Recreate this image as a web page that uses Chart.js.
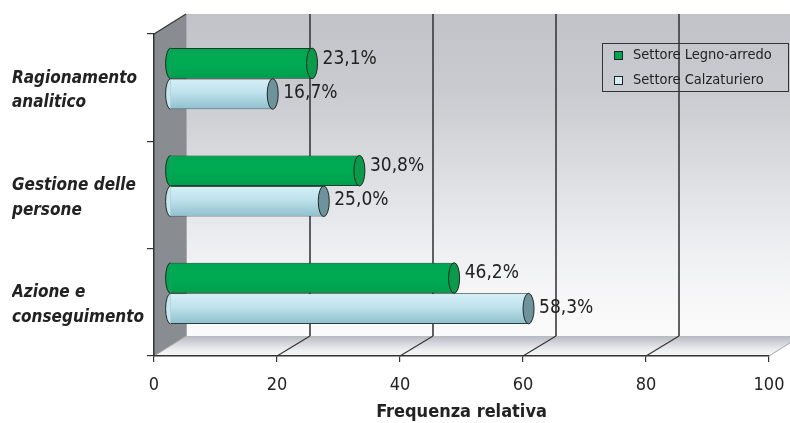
<!DOCTYPE html>
<html><head><meta charset="utf-8">
<script src="https://cdn.jsdelivr.net/npm/chart.js@4"></script>
<style>html,body{margin:0;padding:0;background:#fff}#wrap{width:790px;height:423px}</style>
</head><body><div id="wrap"><canvas id="c" width="790" height="423"></canvas></div>
<script>
const categories = [['Ragionamento','analitico'],['Gestione delle','persone'],['Azione e','conseguimento']];
const seriesNames = ['Settore Legno-arredo','Settore Calzaturiero'];
const legnoValues = [23.1, 30.8, 46.2];
const calzValues = [16.7, 25.0, 58.3];
const xTicks = [0, 20, 40, 60, 80, 100];
const axisTitle = 'Frequenza relativa';

const F = "'DejaVu Sans Condensed','Liberation Sans Narrow','DejaVu Sans',sans-serif";
const DX = 32, DY = -20;   // depth of the 3D box
const BX = 16, BY = -9;    // bars sit half-way in depth
const COLORS = [
  {fill:'#00a651', cap:'#0b9a4c', swatch:'#00a651', labelDy:-4.5},
  {fill:'#b8dde8', cap:'#6e939c', swatch:'#d4eef6', labelDy:-1}
];
const OUT = '#1f2a24';

const scene = {
  id:'scene',
  beforeDraw(chart){
    const c = chart.ctx, a = chart.chartArea, W = chart.width;
    const xs = chart.scales.x;
    c.save();
    // back wall
    let g = c.createLinearGradient(0, a.top+DY, 0, a.bottom+DY);
    g.addColorStop(0,'#c1c3c8'); g.addColorStop(0.24,'#c9cbd0'); g.addColorStop(0.49,'#dcdde1');
    g.addColorStop(0.73,'#eeeff1'); g.addColorStop(0.89,'#f7f7f8'); g.addColorStop(1,'#fbfbfb');
    c.fillStyle = g;
    c.fillRect(a.left+DX, a.top+DY, W-(a.left+DX), a.bottom-a.top);
    // floor
    g = c.createLinearGradient(0, a.bottom+DY, 0, a.bottom);
    g.addColorStop(0,'#b6b9c0'); g.addColorStop(0.35,'#d3d5da'); g.addColorStop(0.7,'#eeeff1'); g.addColorStop(1,'#f8f8f9');
    c.fillStyle = g;
    const yRight = a.bottom + DY*((W-a.right)/DX);
    c.beginPath();
    c.moveTo(a.left, a.bottom); c.lineTo(a.left+DX, a.bottom+DY); c.lineTo(W, a.bottom+DY);
    c.lineTo(W, yRight); c.lineTo(a.right, a.bottom); c.closePath(); c.fill();
    // side wall
    c.fillStyle = '#898d92';
    c.beginPath();
    c.moveTo(a.left, a.top); c.lineTo(a.left+DX, a.top+DY); c.lineTo(a.left+DX, a.bottom+DY); c.lineTo(a.left, a.bottom);
    c.closePath(); c.fill();
    c.strokeStyle = '#a9acb0'; c.lineWidth = 1;
    c.beginPath(); c.moveTo(a.left+DX+0.5, a.top+DY); c.lineTo(a.left+DX+0.5, a.bottom+DY); c.stroke();
    // side wall top edge
    c.strokeStyle = '#333'; c.lineWidth = 1.2;
    c.beginPath(); c.moveTo(a.left, a.top); c.lineTo(a.left+DX, a.top+DY); c.stroke();
    // back gridlines + floor diagonals
    xTicks.forEach(v => {
      const x = xs.getPixelForValue(v);
      if (v > 0 && v < 100) {
        c.strokeStyle = '#3a3a3c'; c.lineWidth = 1.6;
        c.beginPath(); c.moveTo(x+DX+1, a.top+DY); c.lineTo(x+DX+1, a.bottom+DY); c.stroke();
        c.strokeStyle = '#333'; c.lineWidth = 1.1;
        c.beginPath(); c.moveTo(x, a.bottom); c.lineTo(x+DX+1, a.bottom+DY); c.stroke();
      } else {
        c.strokeStyle = '#a0a3a8'; c.lineWidth = 1;
        c.beginPath(); c.moveTo(x, a.bottom); c.lineTo(x+DX, a.bottom+DY); c.stroke();
      }
    });
    c.restore();
  },
  beforeDatasetsDraw(chart){
    chart.ctx.save();
    chart.ctx.translate(BX, BY);
  },
  afterDatasetsDraw(chart){
    const c = chart.ctx;
    chart.data.datasets.forEach((ds, di) => {
      const meta = chart.getDatasetMeta(di);
      meta.data.forEach((el, i) => {
        const h = el.height, y0 = el.y - h/2, y1 = el.y + h/2;
        const base = el.base, end = el.x, ry = h/2;
        if (di === 1) {
          const g = c.createLinearGradient(0, y0, 0, y1);
          g.addColorStop(0,'#d6eff7'); g.addColorStop(0.45,'#bfe2ec'); g.addColorStop(1,'#8ec0cc');
          c.fillStyle = g;
          c.fillRect(base, y0+0.8, end-base, h-1.6);
        } else {
          const g = c.createLinearGradient(0, y0, 0, y1);
          g.addColorStop(0,'#00a651'); g.addColorStop(0.5,'#00ab54'); g.addColorStop(1,'#009e4c');
          c.fillStyle = g;
          c.fillRect(base, y0+0.8, end-base, h-1.6);
        }
        // left rounded end
        c.beginPath();
        c.ellipse(base, el.y, 5, ry, 0, Math.PI/2, Math.PI*1.5);
        c.fillStyle = di === 1 ? '#c4e5ee' : COLORS[0].fill;
        c.fill();
        c.strokeStyle = OUT; c.lineWidth = 1; c.stroke();
        // right cap
        c.beginPath();
        c.ellipse(end, el.y, 5.5, ry, 0, 0, Math.PI*2);
        c.fillStyle = COLORS[di].cap; c.fill();
        c.strokeStyle = OUT; c.lineWidth = 1; c.stroke();
        // value label
        c.fillStyle = '#222';
        c.font = "19px " + F;
        c.textAlign = 'left'; c.textBaseline = 'middle';
        const v = ds.data[i];
        c.fillText(v.toFixed(1).replace('.', ',') + '%', end + 10.5, el.y + COLORS[di].labelDy);
      });
    });
    c.restore();
  },
  afterDraw(chart){
    const c = chart.ctx;
    c.save();
    c.strokeStyle = '#333'; c.lineWidth = 1;
    c.strokeRect(602.5, 43.5, 186, 48);
    chart.data.datasets.forEach((ds, di) => {
      const y = 55.5 + di*25;
      c.fillStyle = COLORS[di].swatch;
      c.fillRect(614.5, y-4, 8, 8);
      c.strokeStyle = '#222'; c.strokeRect(614.5, y-4, 8, 8);
      c.fillStyle = '#222';
      c.font = "14.5px " + F;
      c.textAlign = 'left'; c.textBaseline = 'middle';
      c.fillText(ds.label, 633, y);
    });
    c.restore();
  }
};

new Chart(document.getElementById('c').getContext('2d'), {
  type: 'bar',
  data: {
    labels: categories,
    datasets: [
      {label: seriesNames[0], data: legnoValues, backgroundColor: COLORS[0].fill, borderColor: OUT,
       borderWidth: {top:1, bottom:1, left:0, right:0}, borderSkipped: false},
      {label: seriesNames[1], data: calzValues, backgroundColor: COLORS[1].fill, borderColor: OUT,
       borderWidth: {top:1, bottom:1, left:0, right:0}, borderSkipped: false}
    ]
  },
  options: {
    indexAxis: 'y',
    responsive: false,
    animation: false,
    devicePixelRatio: 1,
    layout: {padding: {left: 12, right: 21, top: 34, bottom: 0}},
    plugins: {legend: {display: false}, tooltip: {enabled: false}},
    datasets: {bar: {categoryPercentage: 0.57, barPercentage: 1}},
    scales: {
      x: {
        type: 'linear', min: 0, max: 100,
        afterBuildTicks: s => { s.ticks = xTicks.map(v => ({value: v})); },
        ticks: {font: {family: F, size: 18}, color: '#222', padding: 13},
        grid: {display: true, drawOnChartArea: false, drawTicks: true, tickLength: 6, color: '#333', lineWidth: 1.2},
        border: {display: true, color: '#333', width: 1.5},
        title: {display: true, text: axisTitle, font: {family: F, size: 18, weight: 'bold'}, color: '#222', padding: 0},
        afterFit: s => { s.height = 67; s.paddingLeft = 0; s.paddingRight = 0; }
      },
      y: {
        ticks: {font: {family: F, size: 17, weight: 'bold', style: 'italic', lineHeight: 1.45}, color: '#222', crossAlign: 'far', padding: 8, labelOffset: 3},
        grid: {display: true, drawOnChartArea: false, drawTicks: true, tickLength: 7, color: '#333', lineWidth: 1.2},
        border: {display: true, color: '#333', width: 1.5},
        afterFit: s => { s.width = 142; s.paddingTop = 0; s.paddingBottom = 0; }
      }
    }
  },
  plugins: [scene]
});
</script>
</body></html>
